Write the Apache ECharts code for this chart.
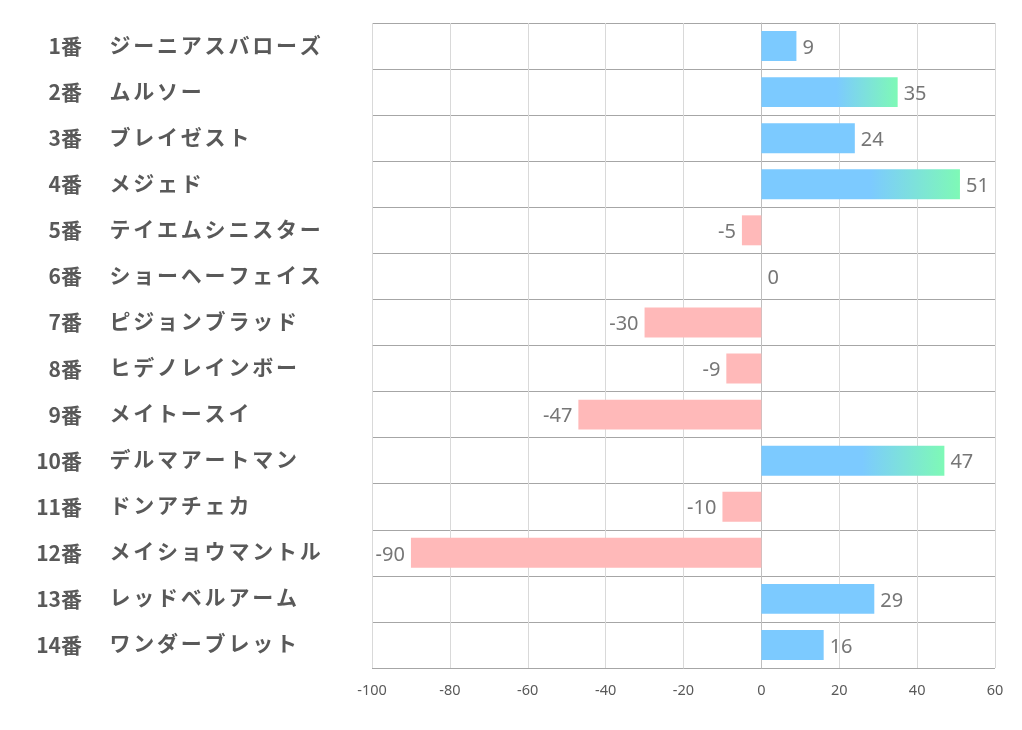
<!DOCTYPE html>
<html><head><meta charset="utf-8">
<script src="https://cdn.jsdelivr.net/npm/echarts@6/dist/echarts.min.js"></script>
<style>html,body{margin:0;padding:0;background:#fff}#c{width:1022px;height:730px}</style>
</head><body><div id="c"></div>
<script>
const numbers = ['1番','2番','3番','4番','5番','6番','7番','8番','9番','10番','11番','12番','13番','14番'];
const names = ['ジーニアスバローズ','ムルソー','ブレイゼスト','メジェド','テイエムシニスター','ショーヘーフェイス','ピジョンブラッド','ヒデノレインボー','メイトースイ','デルマアートマン','ドンアチェカ','メイショウマントル','レッドベルアーム','ワンダーブレット'];
const values = [9,35,24,51,-5,0,-30,-9,-47,47,-10,-90,29,16];
const xTicks = [-100,-80,-60,-40,-20,0,20,40,60];

const BLUE = '#7ccaff', GREEN = '#7ef9b6', PINK = '#ffb9b9';
const data = values.map(v=>{
  let color;
  if (v < 0) color = PINK;
  else if (v >= 30) color = new echarts.graphic.LinearGradient(0,0,1,0,[{offset:0,color:BLUE},{offset:0.55,color:BLUE},{offset:1,color:GREEN}]);
  else color = BLUE;
  return {value:v, itemStyle:{color}, label:{position: v<0?'left':'right'}};
});
const labelFont = {fontSize:21,fontWeight:'bold',color:'#595959',fontFamily:'Noto Sans CJK JP'};

const chart = echarts.init(document.getElementById('c'));
chart.setOption({
  animation:false,
  grid:{left:372,right:27,top:23,bottom:62,containLabel:false},
  xAxis:{type:'value',min:-100,max:60,interval:20,
    axisLine:{show:false},axisTick:{show:false},
    splitLine:{show:true,lineStyle:{color:'#d9d9d9',width:1}},
    axisLabel:{color:'#595959',fontSize:14.5,fontFamily:'Noto Sans',margin:15,
      formatter:v=>xTicks.includes(v)?String(v):''}},
  yAxis:[
    {type:'category',inverse:true,data:numbers,
      axisLine:{show:true,lineStyle:{color:'#bfbfbf'}},axisTick:{show:false},
      splitLine:{show:true,lineStyle:{color:'#a6a6a6',width:1}},
      axisLabel:Object.assign({align:'right',margin:290,padding:[0,0,3,0]},labelFont)},
    {type:'category',inverse:true,data:names,position:'left',offset:0,
      axisLine:{show:false},axisTick:{show:false},splitLine:{show:false},
      axisLabel:{align:'left',margin:264,padding:[0,0,3,0],
        formatter:s=>Array.from(s).map(ch=>'{c|'+ch+'}').join(''),
        rich:{c:Object.assign({width:23.8,align:'center'},labelFont)}}}
  ],
  series:[{type:'bar',yAxisIndex:0,data:data,barCategoryGap:'35%',
    label:{show:true,color:'#767676',fontSize:20,fontFamily:'Noto Sans',distance:6,offset:[0,2]}}]
});
</script></body></html>
